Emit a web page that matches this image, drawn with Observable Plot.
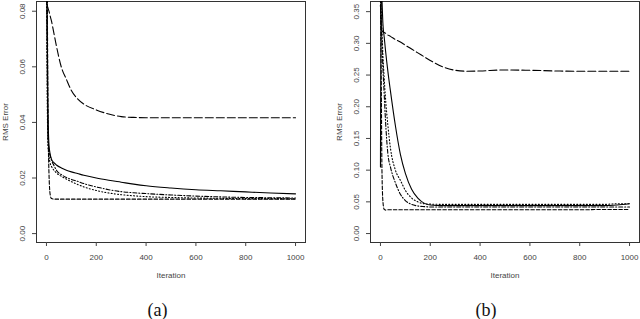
<!DOCTYPE html>
<html>
<head>
<meta charset="utf-8">
<script src="https://cdn.jsdelivr.net/npm/d3@7"></script>
<script src="https://cdn.jsdelivr.net/npm/@observablehq/plot@0.6"></script>
<style>
  html, body { margin: 0; padding: 0; background: white; }
  #row { display: flex; width: 640px; }
  .fig { width: 320px; position: relative; }
  .cap { font-family: "Liberation Serif", "DejaVu Serif", serif; font-size: 18px; line-height: 20px; text-align: center; position: relative; color: #111; }
</style>
</head>
<body>
<div id="row">
  <div class="fig" id="figA"></div>
  <div class="fig" id="figB"></div>
</div>
<script>
// ---------- Data ----------
const xTicks = [0, 200, 400, 600, 800, 1000];
const yTicksA = [0.00, 0.02, 0.04, 0.06, 0.08];
const yTicksB = [0.00, 0.05, 0.10, 0.15, 0.20, 0.25, 0.30, 0.35];
const captions = ["(a)", "(b)"];
const xLabel = "Iteration";
const yLabel = "RMS Error";

// Panel (a)
const iterA =        [0,     3,      6,      10,     15,     20,     30,     40,     60,     80,     100,    125,    150,    200,    250,    300,    350,    400,    500,    600,    700,    800,    900,    1000];
const aSolid =       [0.110, 0.075,  0.045,  0.032,  0.0285, 0.0268, 0.0255, 0.0247, 0.0236, 0.0228, 0.0222, 0.0216, 0.0210, 0.0200, 0.0192, 0.0185, 0.0178, 0.0172, 0.0164, 0.0158, 0.0154, 0.0150, 0.0146, 0.0143];
const aLongDash =    [0.086, 0.0825, 0.0812, 0.0800, 0.0782, 0.0765, 0.0720, 0.0675, 0.0598, 0.0555, 0.0515, 0.0485, 0.0466, 0.0445, 0.0430, 0.0421, 0.0418, 0.0417, 0.0417, 0.0417, 0.0417, 0.0417, 0.0417, 0.0417];
const aDashDot =     [0.100, 0.060,  0.035,  0.030,  0.0280, 0.0265, 0.0245, 0.0228, 0.0212, 0.0202, 0.0195, 0.0188, 0.0180, 0.0168, 0.0158, 0.0151, 0.0147, 0.0144, 0.0139, 0.0135, 0.0132, 0.0130, 0.0129, 0.0128];
const aDotted =      [0.100, 0.050,  0.032,  0.028,  0.0253, 0.0242, 0.0228, 0.0218, 0.0206, 0.0196, 0.0187, 0.0177, 0.0168, 0.0155, 0.0146, 0.0140, 0.0136, 0.0133, 0.0130, 0.0128, 0.0127, 0.0126, 0.0126, 0.0125];
const aShortDash =   [0.120, 0.090,  0.045,  0.022,  0.0140, 0.0126, 0.0124, 0.0124, 0.0124, 0.0124, 0.0124, 0.0124, 0.0124, 0.0124, 0.0124, 0.0124, 0.0124, 0.0124, 0.0124, 0.0124, 0.0124, 0.0124, 0.0124, 0.0124];

// Panel (b)
const iterB =        [0,     3,      6,      10,     15,     20,     30,     40,     60,     80,     100,    125,    150,    175,    200,    250,    300,    350,    400,    500,    600,    700,    800,    900,    950,    1000];
const bSolid =       [0.105, 0.400,  0.370,  0.330,  0.310,  0.290,  0.255,  0.225,  0.170,  0.125,  0.095,  0.070,  0.056,  0.048,  0.045,  0.044,  0.044,  0.044,  0.044,  0.044,  0.044,  0.044,  0.044,  0.044,  0.045,  0.047];
const bLongDash =    [0.360, 0.330,  0.320,  0.318,  0.317,  0.316,  0.313,  0.311,  0.306,  0.302,  0.297,  0.291,  0.285,  0.279,  0.273,  0.263,  0.2575, 0.256,  0.2565, 0.258,  0.2575, 0.2565, 0.256,  0.256,  0.256,  0.256];
const bDotted =      [0.370, 0.350,  0.320,  0.280,  0.245,  0.215,  0.170,  0.135,  0.100,  0.084,  0.068,  0.056,  0.050,  0.047,  0.0465, 0.046,  0.046,  0.046,  0.046,  0.046,  0.046,  0.046,  0.046,  0.046,  0.047,  0.047];
const bDashDot =     [0.360, 0.330,  0.300,  0.260,  0.220,  0.180,  0.125,  0.105,  0.080,  0.062,  0.052,  0.046,  0.0435, 0.0425, 0.042,  0.042,  0.042,  0.042,  0.042,  0.042,  0.042,  0.042,  0.042,  0.042,  0.042,  0.042];
const bShortDash =   [0.370, 0.250,  0.100,  0.050,  0.038,  0.037,  0.0375, 0.0375, 0.0375, 0.0375, 0.0375, 0.0375, 0.0375, 0.0375, 0.0375, 0.0375, 0.0375, 0.0375, 0.0375, 0.0375, 0.0375, 0.0375, 0.0375, 0.038,  0.038,  0.038];

const dashes = { solid: null, longDash: "8,3", dashDot: "4,2,1,2", dotted: "1,2.2", shortDash: "3.5,2" };

function rows(iter, vals) { return iter.map((x, i) => ({x, y: vals[i]})); }

function panel({iter, series, yDomain, yTicks, marginLeft, marginRight}) {
  const fmt = d3.format(".2f");
  const lines = series.map(([vals, dash]) => Plot.line(rows(iter, vals), {
    x: "x", y: "y", stroke: "black", strokeWidth: 1.1,
    strokeDasharray: dash, curve: "monotone-x", clip: true
  }));
  return Plot.plot({
    width: 320, height: 300,
    marginTop: 1, marginBottom: 58, marginLeft, marginRight,
    x: {domain: [-40, 1040]},
    y: {domain: yDomain},
    style: {fontFamily: "'Liberation Sans', Arial, sans-serif", fontSize: "8px", background: "white", color: "#333"},
    marks: [
      Plot.frame({stroke: "#333", strokeWidth: 1}),
      Plot.axisX({ticks: xTicks, tickSize: 4, tickPadding: 8, tickFormat: d3.format("d"), label: null, fontSize: 8, stroke: "#444", fill: "#444"}),
      Plot.axisY({ticks: yTicks, tickSize: 4, tickFormat: () => "", label: null, stroke: "#444"}),
      Plot.text(yTicks, {y: d => d, text: d => fmt(d), frameAnchor: "left", dx: -14, rotate: -90, lineAnchor: "middle", textAnchor: "middle", fontSize: 8, fill: "#444"}),
      Plot.text([xLabel], {text: d => d, frameAnchor: "bottom", dy: 33, lineAnchor: "middle", fontSize: 8, fill: "#444"}),
      Plot.text([yLabel], {text: d => d, frameAnchor: "left", dx: -31.5, rotate: -90, lineAnchor: "middle", textAnchor: "middle", fontSize: 8, fill: "#444"}),
      ...lines
    ]
  });
}

const plotA = panel({
  iter: iterA,
  series: [[aLongDash, dashes.longDash], [aSolid, dashes.solid], [aDotted, dashes.dotted], [aDashDot, dashes.dashDot], [aShortDash, dashes.shortDash]],
  yDomain: [-0.0032, 0.0835], yTicks: yTicksA, marginLeft: 36, marginRight: 15
});
const plotB = panel({
  iter: iterB,
  series: [[bLongDash, dashes.longDash], [bSolid, dashes.solid], [bDotted, dashes.dotted], [bDashDot, dashes.dashDot], [bShortDash, dashes.shortDash]],
  yDomain: [-0.0141, 0.366], yTicks: yTicksB, marginLeft: 50, marginRight: 1
});

function addFig(id, plot, cap, shift) {
  const el = document.getElementById(id);
  el.appendChild(plot);
  const c = document.createElement("div");
  c.className = "cap";
  c.style.left = shift + "px";
  c.textContent = cap;
  el.appendChild(c);
}
addFig("figA", plotA, captions[0], -2.5);
addFig("figB", plotB, captions[1], 6);
</script>
</body>
</html>
